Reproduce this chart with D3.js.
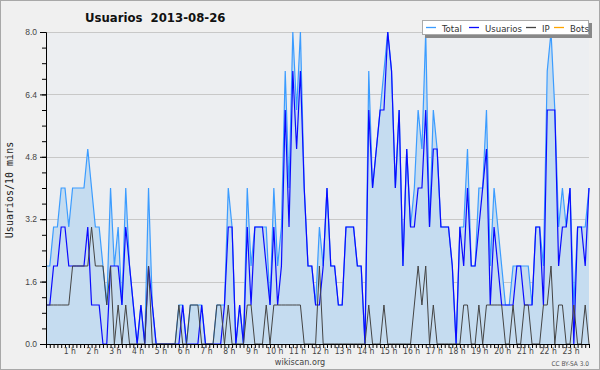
<!DOCTYPE html>
<html>
<head>
<meta charset="utf-8">
<script src="https://cdn.jsdelivr.net/npm/d3@7"></script>
<style>
  body { margin: 0; background: #fff; }
  svg { display: block; font-family: 'DejaVu Sans Condensed', 'DejaVu Sans', sans-serif; font-stretch: condensed; }
</style>
</head>
<body>
<div class="chart"></div>
<script>
// one value every 10 minutes, 00:00 .. 23:50
const total = [2,2,3,3,4,4,3,4,4,4, 4,5,4,3,3,2,1,4,2,3, 1,4,2,1,0,1,0,4,1,0,
  0,0,0,0,0,1,1,0,1,1, 1,1,0,0,0,1,1,1,4,3, 0,1,0,4,2,3,3,3,3,1,
  4,2,3,7,4,8,6,8,4,2, 2,1,3,2,4,2,2,1,1,3, 3,3,2,2,0,7,4,5,6,7,
  8,7,4,6,2,5,3,4,6,5, 8,3,6,5,3,3,3,2,0,3, 3,5,2,2,4,4,6,2,4,3,
  2,1,1,2,2,2,2,2,1,3, 3,2,7,8,6,3,4,3,4,1, 3,3,3,4];
const usuarios = [1,1,2,2,3,3,2,2,2,2, 2,3,1,1,1,0,0,2,2,2, 1,3,2,1,0,1,0,2,1,0,
  0,0,0,0,0,0,1,0,0,0, 0,1,0,0,0,0,0,1,3,3, 0,1,0,3,1,3,3,3,2,1,
  3,1,2,6,3,7,5,7,4,2, 2,1,1,2,4,2,2,1,1,3, 3,3,2,2,0,6,4,5,6,6,
  8,7,4,6,2,5,3,3,4,4, 6,3,5,5,3,3,3,2,0,3, 2,4,2,2,3,4,5,1,3,2,
  1,1,1,1,2,2,1,1,1,3, 3,1,6,6,6,2,3,3,4,0, 3,3,2,4];
const ip = [1,1,1,1,1,1,1,2,2,2, 2,2,3,2,2,2,1,2,0,1, 0,1,0,0,0,0,0,2,0,0,
  0,0,0,0,0,1,0,0,1,1, 1,0,0,0,0,1,1,0,1,0, 0,0,0,1,1,0,0,0,1,0,
  1,1,1,1,1,1,1,1,0,0, 0,0,2,0,0,0,0,0,0,0, 0,0,0,0,0,1,0,0,0,1,
  0,0,0,0,0,0,0,1,2,1, 2,0,1,0,0,0,0,0,0,0, 1,1,0,0,1,0,1,1,1,1,
  1,0,0,1,0,0,1,1,0,0, 0,1,1,2,0,1,1,0,0,1, 0,0,1,0];
const bots = total.map(() => 0);
const hourLabels = d3.range(1, 24).map(h => `${h} h`);
const yTicks = [0, 1.6, 3.2, 4.8, 6.4, 8.0];

const w = 600;
const h = 370;
const margin = { top: 32, right: 11, bottom: 26, left: 46 };

const svg = d3.select('.chart')
  .append('svg')
  .attr('width', w)
  .attr('height', h);

svg.append('rect')
  .attr('x', 0.5).attr('y', 0.5)
  .attr('width', w - 1).attr('height', h - 1)
  .attr('fill', '#f0f0f0')
  .attr('stroke', '#a8a8a8');

const xScale = d3.scaleLinear()
  .domain([0, total.length - 1])
  .range([margin.left, w - margin.right]);
const yScale = d3.scaleLinear()
  .domain([0, 8])
  .range([h - margin.bottom, margin.top]);

// plot background
svg.append('rect')
  .attr('x', margin.left)
  .attr('y', margin.top)
  .attr('width', w - margin.right - margin.left)
  .attr('height', h - margin.bottom - margin.top)
  .attr('fill', '#eceef1');

// grid
svg.append('g')
  .selectAll('line')
  .data(yTicks.slice(1))
  .enter()
  .append('line')
  .attr('x1', margin.left)
  .attr('x2', w - margin.right)
  .attr('y1', d => Math.round(yScale(d)) + 0.5)
  .attr('y2', d => Math.round(yScale(d)) + 0.5)
  .attr('stroke', '#c8c8c8');

const line = (arr) => d3.line()
  .x((d, i) => xScale(i))
  .y(d => yScale(d))(arr);

svg.append('path')
  .attr('d', line(bots))
  .attr('fill', 'none')
  .attr('stroke', '#ffa500');

svg.append('path')
  .attr('d', d3.area()
    .x((d, i) => xScale(i))
    .y0(yScale(0))
    .y1(d => yScale(d))(total))
  .attr('fill', '#c5dcf0');

svg.append('path')
  .attr('d', line(total))
  .attr('fill', 'none')
  .attr('stroke', '#3b9cff')
  .attr('stroke-width', 1.2);

svg.append('path')
  .attr('d', line(usuarios))
  .attr('fill', 'none')
  .attr('stroke', '#0a0aff')
  .attr('stroke-width', 1.2);

svg.append('path')
  .attr('d', line(ip))
  .attr('fill', 'none')
  .attr('stroke', '#444')
  .attr('stroke-width', 1);

// x axis: a tick every 10 min, labels every hour
svg.append('g')
  .attr('class', 'x-axis')
  .attr('transform', `translate(0, ${h - margin.bottom})`)
  .call(d3.axisBottom(xScale)
    .tickValues(d3.range(0, total.length))
    .tickSize(4)
    .tickSizeOuter(0)
    .tickFormat(''));

svg.append('g')
  .selectAll('text')
  .data(hourLabels)
  .enter()
  .append('text')
  .attr('x', (d, i) => xScale((i + 1) * 6) + 1)
  .attr('y', h - 16)
  .attr('text-anchor', 'middle')
  .attr('font-size', 8.5)
  .attr('fill', '#444')
  .text(d => d);

// y axis with minor ticks every 0.4
svg.append('g')
  .attr('transform', `translate(${margin.left}, 0)`)
  .call(d3.axisLeft(yScale)
    .tickValues(d3.range(0, 8.01, 0.4))
    .tickSize(4)
    .tickSizeOuter(0)
    .tickFormat(''));

svg.append('g')
  .attr('class', 'y-axis')
  .attr('transform', `translate(${margin.left}, 0)`)
  .call(d3.axisLeft(yScale)
    .tickValues(yTicks)
    .tickSize(6)
    .tickSizeOuter(0)
    .tickFormat(d3.format('.1f')));

svg.selectAll('.x-axis path, .y-axis path, .tick line')
  .attr('stroke', '#000');
svg.selectAll('.y-axis text')
  .attr('font-size', 8.5)
  .attr('font-family', null)
  .attr('fill', '#444');

svg.append('text')
  .attr('transform', 'rotate(-90)')
  .attr('x', -190)
  .attr('y', 13)
  .attr('text-anchor', 'middle')
  .attr('font-family', 'DejaVu Sans Mono')
  .style('font-stretch', 'normal')
  .attr('font-size', 10)
  .attr('fill', '#222')
  .text('Usuarios/10 mins');

svg.append('text')
  .attr('x', 85)
  .attr('y', 22)
  .attr('font-size', 13)
  .attr('font-weight', 'bold')
  .attr('fill', '#111')
  .text('Usuarios\u00a0\u00a02013-08-26');

svg.append('text')
  .attr('x', 300)
  .attr('y', h - 5)
  .attr('text-anchor', 'middle')
  .attr('font-size', 9)
  .attr('fill', '#444')
  .text('wikiscan.org');

svg.append('text')
  .attr('x', w - 11)
  .attr('y', h - 4)
  .attr('text-anchor', 'end')
  .attr('font-size', 6.5)
  .attr('fill', '#555')
  .text('CC BY-SA 3.0');

// legend
const legendItems = [
  { name: 'Total', color: '#3b9cff' },
  { name: 'Usuarios', color: '#0a0aff' },
  { name: 'IP', color: '#444' },
  { name: 'Bots', color: '#ffa500' }
];
const legendX = [426, 469, 526, 554];

const legend = svg.append('g');
legend.append('rect')
  .attr('x', 425).attr('y', 23)
  .attr('width', 167).attr('height', 15)
  .attr('fill', '#888');
legend.append('rect')
  .attr('x', 422.5).attr('y', 20.5)
  .attr('width', 166).attr('height', 14)
  .attr('fill', '#fff')
  .attr('stroke', '#aaa');

legendItems.forEach((d, i) => {
  legend.append('line')
    .attr('x1', legendX[i]).attr('x2', legendX[i] + 10)
    .attr('y1', 27.5).attr('y2', 27.5)
    .attr('stroke', d.color)
    .attr('stroke-width', 1.3);
  legend.append('text')
    .attr('x', legendX[i] + 16)
    .attr('y', 31.5)
    .attr('font-size', 9.5)
    .attr('fill', '#333')
    .text(d.name);
});
</script>
</body>
</html>
